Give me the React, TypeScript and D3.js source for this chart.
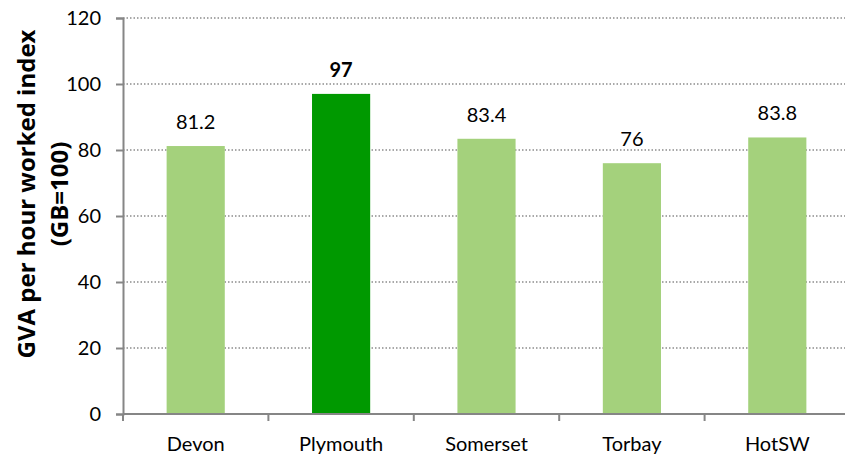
import { useEffect, useRef } from "react";
import * as d3 from "d3";

const categories = ["Devon", "Plymouth", "Somerset", "Torbay", "HotSW"];
const values = [81.2, 97, 83.4, 76, 83.8];
const labels = ["81.2", "97", "83.4", "76", "83.8"];
const highlight = ["Plymouth"];
const yTicks = [0, 20, 40, 60, 80, 100, 120];

export default function App() {
  const svgRef = useRef<SVGSVGElement>(null);

  useEffect(() => {
    const w = 845;
    const h = 458;
    const left = 123;
    const right = 850;
    const top = 18;
    const bottom = 414;
    const font = "Lato, 'Open Sans', sans-serif";

    const svg = d3.select(svgRef.current);
    svg.selectAll("*").remove();
    svg.attr("width", w).attr("height", h).style("display", "block");

    const x = d3.scaleBand().domain(categories).range([left, right]).paddingInner(0.6).paddingOuter(0.3);
    const y = d3.scaleLinear().domain([0, 120]).range([bottom, top]);

    // gridlines
    svg
      .append("g")
      .selectAll("line")
      .data(yTicks.filter((d) => d > 0))
      .join("line")
      .attr("x1", left)
      .attr("x2", right)
      .attr("y1", (d) => y(d))
      .attr("y2", (d) => y(d))
      .attr("stroke", "#8c8c8c")
      .attr("stroke-width", 1.3)
      .attr("stroke-dasharray", "1.5,2");

    // bars
    svg
      .append("g")
      .selectAll("rect")
      .data(categories)
      .join("rect")
      .attr("x", (d) => x(d)!)
      .attr("width", x.bandwidth())
      .attr("y", (d, i) => y(values[i]))
      .attr("height", (d, i) => y(0) - y(values[i]))
      .attr("fill", (d) => (highlight.includes(d) ? "#009900" : "#a4d17c"));

    // value labels
    svg
      .append("g")
      .selectAll("text")
      .data(categories)
      .join("text")
      .attr("x", (d) => x(d)! + x.bandwidth() / 2)
      .attr("y", (d, i) => y(values[i]) - 17)
      .attr("text-anchor", "middle")
      .attr("font-family", font)
      .attr("font-size", 20)
      .attr("font-weight", (d) => (highlight.includes(d) ? "bold" : "normal"))
      .attr("fill", "#000")
      .text((d, i) => labels[i]);

    // y axis
    const yAxis = d3
      .axisLeft(y)
      .tickValues(yTicks)
      .tickSize(7)
      .tickPadding(15)
      .tickFormat((d) => String(d));
    const gy = svg.append("g").attr("transform", `translate(${left},0)`).call(yAxis);
    gy.select(".domain").attr("stroke", "#868686").attr("stroke-width", 2);
    gy.selectAll(".tick line").attr("stroke", "#868686").attr("stroke-width", 2);
    gy.selectAll(".tick text")
      .attr("font-family", font)
      .attr("font-size", 20)
      .attr("fill", "#000");

    // x axis
    const step = x.step();
    const boundaries = categories.map((d) => x(d)! + x.bandwidth() / 2 - step / 2);
    const gx = svg.append("g");
    gx.append("line")
      .attr("x1", left)
      .attr("x2", right)
      .attr("y1", bottom)
      .attr("y2", bottom)
      .attr("stroke", "#868686")
      .attr("stroke-width", 2);
    gx.selectAll("line.tk")
      .data(boundaries)
      .join("line")
      .attr("class", "tk")
      .attr("x1", (d) => d)
      .attr("x2", (d) => d)
      .attr("y1", bottom)
      .attr("y2", bottom + 7)
      .attr("stroke", "#868686")
      .attr("stroke-width", 2);
    gx.selectAll("text")
      .data(categories)
      .join("text")
      .attr("x", (d) => x(d)! + x.bandwidth() / 2)
      .attr("y", 451)
      .attr("text-anchor", "middle")
      .attr("font-family", font)
      .attr("font-size", 20)
      .attr("fill", "#000")
      .text((d) => d);

    // y title
    const title = svg
      .append("text")
      .attr("transform", `translate(35,194) rotate(-90)`)
      .attr("text-anchor", "middle")
      .attr("font-family", "'Open Sans', sans-serif")
      .attr("font-size", 24)
      .attr("font-weight", "bold")
      .attr("fill", "#000");
    title.append("tspan").attr("x", 0).attr("dy", 0).text("GVA per hour worked index");
    title.append("tspan").attr("x", 0).attr("dy", 33).text("(GB=100)");
  }, []);

  return <svg ref={svgRef} style={{ position: "absolute", left: 0, top: 0 }}></svg>;
}
